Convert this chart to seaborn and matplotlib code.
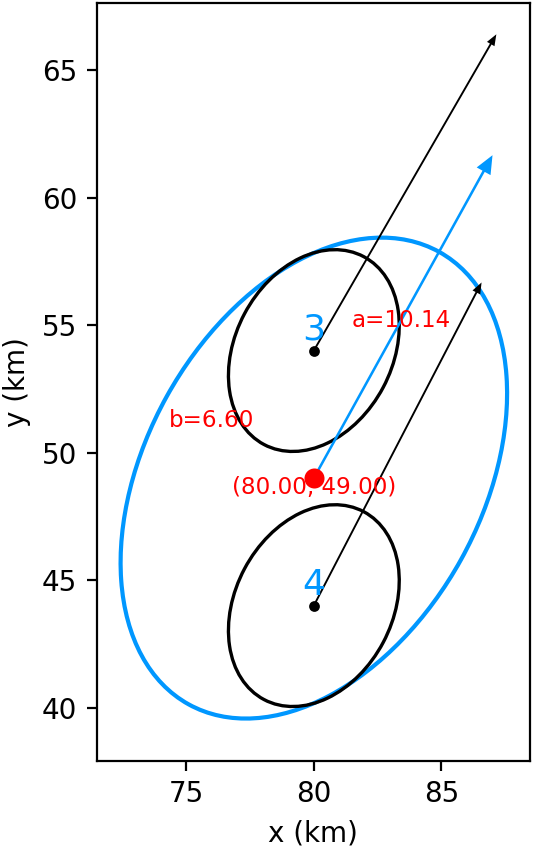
import matplotlib
matplotlib.use("Agg")
import matplotlib.pyplot as plt
import seaborn as sns
import numpy as np
import pandas as pd
from matplotlib.patches import Ellipse

# object ellipses (black)
obj_ids = ["3", "4"]
obj_x = [80.0, 80.0]
obj_y = [54.0, 44.0]
obj_a = [4.17, 4.17]
obj_b = [3.08, 3.08]
obj_angle = [62.0, 62.0]
# direction arrows of the objects (dx, dy to the tip)
obj_dx = [7.16, 6.58]
obj_dy = [12.40, 12.67]

# merged ellipse (blue)
merged_x = 80.0
merged_y = 49.0
merged_a = 10.14
merged_b = 6.60
merged_angle = 61.0
merged_dx = 7.01
merged_dy = 12.66

BLUE = "#0097ff"

sns.set_style("ticks", rc={"axes.edgecolor": "black", "text.color": "black",
                           "axes.labelcolor": "black", "xtick.color": "black",
                           "ytick.color": "black"})
plt.rcParams["font.family"] = ["DejaVu Sans"]
plt.rcParams["font.size"] = 10

fig = plt.figure(figsize=(2.75, 4.325), dpi=200)
ax = fig.add_axes([0.1758, 0.1206, 0.7878, 0.8763])

# merged ellipse
ax.add_patch(Ellipse((merged_x, merged_y), 2 * merged_a, 2 * merged_b, angle=merged_angle,
                     fill=False, edgecolor=BLUE, lw=1.5, zorder=2))
ax.arrow(merged_x, merged_y, merged_dx, merged_dy, width=0.1, head_width=0.62,
         head_length=0.72, length_includes_head=True, color=BLUE, lw=0, zorder=3)

for i in range(len(obj_ids)):
    ax.add_patch(Ellipse((obj_x[i], obj_y[i]), 2 * obj_a[i], 2 * obj_b[i], angle=obj_angle[i],
                         fill=False, edgecolor="black", lw=1.2, zorder=2))
    ax.arrow(obj_x[i], obj_y[i], obj_dx[i], obj_dy[i], width=0.075, head_width=0.34,
             head_length=0.44, length_includes_head=True, color="black", lw=0, zorder=3)
    ax.text(obj_x[i], obj_y[i] + 0.42, obj_ids[i], color=BLUE, fontsize=13,
            ha="center", va="baseline", zorder=4)

centers = pd.DataFrame({"x": obj_x, "y": obj_y})
sns.scatterplot(data=centers, x="x", y="y", color="black", s=15, linewidth=0, ax=ax, zorder=5)
sns.scatterplot(x=[merged_x], y=[merged_y], color="red", s=52, linewidth=0, ax=ax, zorder=5)

ax.text(81.5, 54.93, f"a={merged_a:.2f}", color="red", fontsize=8.3, ha="left", va="baseline")
ax.text(75.97, 51.0, f"b={merged_b:.2f}", color="red", fontsize=8.3, ha="center", va="baseline")
ax.text(merged_x, 48.39, f"({merged_x:.2f}, {merged_y:.2f})", color="red", fontsize=8.3,
        ha="center", va="baseline")

ax.set_xlim(71.48, 88.48)
ax.set_ylim(37.92, 67.64)
ax.set_xticks([75, 80, 85])
ax.set_yticks([40, 45, 50, 55, 60, 65])
ax.set_xlabel("x (km)")
ax.set_ylabel("y (km)")

fig.savefig("out.png", dpi=200)
